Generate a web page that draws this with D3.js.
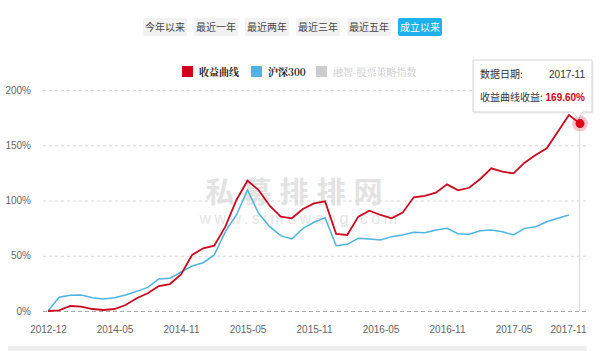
<!DOCTYPE html>
<html>
<head>
<meta charset="utf-8">
<script src="https://cdn.jsdelivr.net/npm/d3@7/dist/d3.min.js"></script>
<style>
  body { margin: 0; background: #fff; }
  svg { display: block; font-family: "Liberation Sans", Arial, sans-serif; }
</style>
</head>
<body>
<svg id="chart"></svg>
<script>
// 月份（类目轴）
const dates = [
  "2012-12", "2013-03", "2013-06", "2013-09", "2013-12", "2014-03",
  "2014-05", "2014-06", "2014-07", "2014-08", "2014-09", "2014-10",
  "2014-11", "2014-12", "2015-01", "2015-02", "2015-03", "2015-04",
  "2015-05", "2015-06", "2015-07", "2015-08", "2015-09", "2015-10",
  "2015-11", "2015-12", "2016-01", "2016-02", "2016-03", "2016-04",
  "2016-05", "2016-06", "2016-07", "2016-08", "2016-09", "2016-10",
  "2016-11", "2016-12", "2017-01", "2017-02", "2017-03", "2017-04",
  "2017-05", "2017-06", "2017-07", "2017-08", "2017-09", "2017-10",
  "2017-11"
];

// 收益曲线 (%)
const fundValues = [
  0, 0.5, 4.5, 3.9, 1.8, 0.9, 1.8, 5.4, 11.5, 16, 22.6, 24.4,
  33, 50.7, 56.7, 59.1, 76.3, 100.5, 117.9, 109.5, 95.3, 85.4, 83.9, 92.3,
  97.4, 99.2, 69.7, 68.8, 85.4, 90.8, 86.9, 83.9, 89, 102.9, 104.1, 107.1,
  114.6, 109.2, 111.5, 119.5, 129.1, 126.1, 124.6, 134.2, 141.2, 147.2, 162.3, 177.4,
  169.6
];

// 沪深300 (%)
const indexValues = [
  0, 12.4, 14.2, 14.5, 12, 10.9, 12, 14.5, 17.8, 21.4, 29, 29.6,
  35.3, 40.7, 43.7, 50.7, 71.8, 86.9, 109.5, 88.4, 76.3, 68.2, 65.2, 74.8,
  80.3, 84.5, 59.1, 60.3, 65.8, 65.2, 64.3, 67.3, 68.8, 71.2, 70.9, 73.3,
  74.8, 70, 69.4, 72.7, 73.3, 71.8, 68.8, 74.8, 76.3, 80.8, 83.9, 86.9
];

const yTicks = [0, 50, 100, 150, 200];
const buttons = ["今年以来", "最近一年", "最近两年", "最近三年", "最近五年", "成立以来"];
const legendItems = [
  { name: "收益曲线", color: "#d0021b", on: true },
  { name: "沪深300", color: "#4fb3e3", on: true },
  { name: "融智-股票策略指数", color: "#cccccc", on: false }
];

const width = 600, height = 351;
const svg = d3.select("#chart").attr("width", width).attr("height", height);

const x = d3.scalePoint().domain(dates).range([48, 580]);
const y = d3.scaleLinear().domain([0, 200]).range([311, 90]);

// 顶部按钮
const btn = svg.append("g").selectAll("g")
  .data(buttons).enter().append("g")
  .attr("transform", (d, i) => `translate(${143 + i * 51}, 18)`);
btn.append("rect")
  .attr("width", 44).attr("height", 18).attr("rx", 2)
  .attr("fill", (d, i) => i === buttons.length - 1 ? "#1eb1ec" : "#f2f2f2");
btn.append("text")
  .attr("x", 22).attr("y", 12.5)
  .attr("text-anchor", "middle")
  .style("font-family", "'Noto Sans CJK SC', sans-serif")
  .style("font-size", "10px")
  .attr("fill", (d, i) => i === buttons.length - 1 ? "#fff" : "#444")
  .text(d => d);

// 图例
const legendX = [182, 251, 316];
const lg = svg.append("g").selectAll("g")
  .data(legendItems).enter().append("g")
  .attr("transform", (d, i) => `translate(${legendX[i]}, 66)`);
lg.append("rect").attr("width", 11).attr("height", 11).attr("fill", d => d.color);
lg.append("text")
  .attr("x", 17).attr("y", 9.5)
  .style("font-family", "'Noto Serif CJK SC', 'Noto Sans CJK SC', serif")
  .style("font-size", "10px")
  .style("font-weight", d => d.on ? "bold" : "normal")
  .attr("fill", d => d.on ? "#222" : "#c8c8c8")
  .text(d => d.name);

// 水印
svg.append("text")
  .attr("x", 298).attr("y", 203)
  .attr("text-anchor", "middle")
  .style("font-family", "'Noto Sans CJK SC', sans-serif")
  .style("font-size", "29px").style("font-weight", "bold")
  .style("letter-spacing", "8px")
  .attr("fill", "#e3e3e3")
  .text("私募排排网");
svg.append("text")
  .attr("x", 300).attr("y", 224)
  .attr("text-anchor", "middle")
  .style("font-size", "16px")
  .style("letter-spacing", "3.5px")
  .attr("fill", "#e6e6e6")
  .text("www.simuwang.com");

// 网格线 + Y 轴
const yAxis = svg.append("g")
  .attr("transform", "translate(31,0)")
  .call(d3.axisLeft(y).tickValues(yTicks).tickSize(0).tickPadding(0).tickFormat(d => d + "%"));
yAxis.select(".domain").remove();
yAxis.selectAll("text").attr("fill", "#666").style("font-size", "10px");

svg.append("g").selectAll("line")
  .data(yTicks).enter().append("line")
  .attr("x1", 43).attr("x2", 586)
  .attr("y1", d => y(d) + 0.5).attr("y2", d => y(d) + 0.5)
  .attr("stroke", d => d === 0 ? "#aaa" : "#d8d8d8")
  .attr("stroke-dasharray", d => d === 0 ? "4,3" : "3,3");

// X 轴
const tickDates = dates.filter((d, i) => i % 6 === 0);
const xAxis = svg.append("g")
  .attr("transform", "translate(0,322)")
  .call(d3.axisBottom(x).tickValues(tickDates).tickSize(0).tickPadding(4));
xAxis.select(".domain").remove();
xAxis.selectAll("text").attr("fill", "#666").style("font-size", "10px");
// 最后一个标签靠右对齐
xAxis.selectAll(".tick").filter(d => d === dates[dates.length - 1])
  .select("text").attr("text-anchor", "end").attr("dx", 6);

// 十字准线
const lastDate = dates[dates.length - 1];
const lastVal = fundValues[fundValues.length - 1];
svg.append("line")
  .attr("x1", x(lastDate) - 0.5).attr("x2", x(lastDate) - 0.5)
  .attr("y1", 112).attr("y2", y(0))
  .attr("stroke", "#ddd");

// 曲线
const line = d3.line().x((d, i) => x(dates[i])).y(d => y(d));
svg.append("path").datum(indexValues)
  .attr("fill", "none").attr("stroke", "#4fb3e3").attr("stroke-width", 1.5)
  .attr("d", line);
svg.append("path").datum(fundValues)
  .attr("fill", "none").attr("stroke", "#cc0a1f").attr("stroke-width", 1.8)
  .attr("d", line);

// 高亮点
svg.append("circle").attr("cx", x(lastDate)).attr("cy", y(lastVal)).attr("r", 8)
  .attr("fill", "#e0001b").attr("fill-opacity", 0.22);
svg.append("circle").attr("cx", x(lastDate)).attr("cy", y(lastVal)).attr("r", 4.5)
  .attr("fill", "#e0001b");

// 提示框
const tip = svg.append("g");
const tx = 473, ty = 60, tw = 119, th = 52, px = x(lastDate) - 2;
const tipPath = `M${tx},${ty} H${tx + tw} V${ty + th} H${px + 5} L${px},${ty + th + 6} L${px - 5},${ty + th} H${tx} Z`;
tip.append("path").attr("d", tipPath)
  .attr("transform", "translate(1.5,1.5)")
  .attr("fill", "#000").attr("fill-opacity", 0.06);
tip.append("path").attr("d", tipPath)
  .attr("fill", "#fff").attr("stroke", "#d4d4d4");
tip.append("text").attr("x", 480).attr("y", 78)
  .style("font-family", "'Noto Sans CJK SC', sans-serif").style("font-size", "10px")
  .attr("fill", "#333").text("数据日期:");
tip.append("text").attr("x", 585).attr("y", 78).attr("text-anchor", "end")
  .style("font-size", "10px").attr("fill", "#333").text(lastDate);
tip.append("text").attr("x", 480).attr("y", 101)
  .style("font-family", "'Noto Sans CJK SC', sans-serif").style("font-size", "10px")
  .attr("fill", "#333").text("收益曲线收益:");
tip.append("text").attr("x", 585).attr("y", 101).attr("text-anchor", "end")
  .style("font-size", "10px").style("font-weight", "bold")
  .attr("fill", "#d0021b").text(d3.format(".2f")(lastVal) + "%");

// 底部滚动条
svg.append("rect").attr("x", 8).attr("y", 346).attr("width", 579).attr("height", 5)
  .attr("fill", "#eeeeee");
</script>
</body>
</html>
